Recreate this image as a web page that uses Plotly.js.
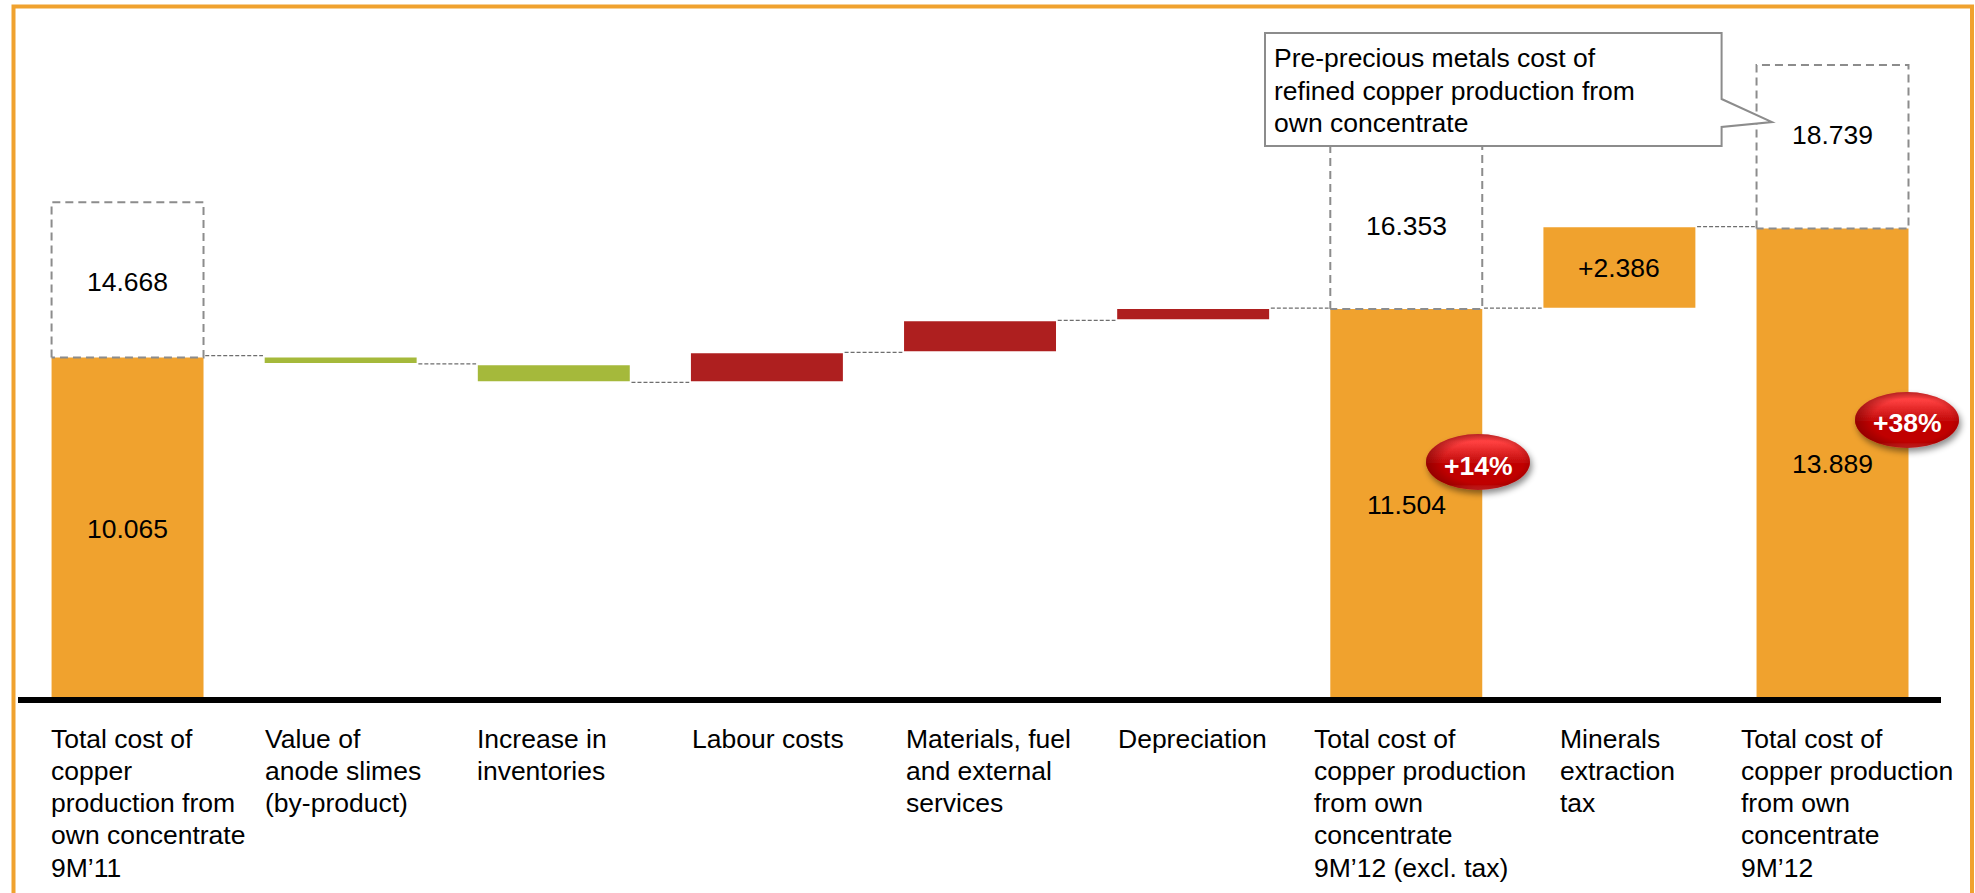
<!DOCTYPE html>
<html>
<head>
<meta charset="utf-8">
<script src="https://cdn.plot.ly/plotly-3.0.1.min.js"></script>
<style>html,body{margin:0;padding:0;background:#fff;overflow:hidden}</style>
</head>
<body>
<div id="chart"></div>
<script>
// Copper production cost bridge, 9M'11 to 9M'12
const categories = [
  ["Total cost of", "copper", "production from", "own concentrate", "9M’11"],
  ["Value of", "anode slimes", "(by-product)"],
  ["Increase in", "inventories"],
  ["Labour costs"],
  ["Materials, fuel", "and external", "services"],
  ["Depreciation"],
  ["Total cost of", "copper production", "from own", "concentrate", "9M’12 (excl. tax)"],
  ["Minerals", "extraction", "tax"],
  ["Total cost of", "copper production", "from own", "concentrate", "9M’12"]
];
const barBottom = [0, 9.90, 9.36, 9.36, 10.25, 11.20, 0, 11.544, 0];
const barTop = [10.065, 10.065, 9.84, 10.19, 11.14, 11.504, 11.504, 13.93, 13.889];
const barColors = ["#F0A22E", "#A5B93B", "#A5B93B", "#AE1F1F", "#AE1F1F", "#AE1F1F", "#F0A22E", "#F0A22E", "#F0A22E"];
const bridgeLevels = [10.12, 9.88, 9.33, 10.22, 11.17, 11.53, 11.53, 13.95];
const prePreciousTotals = [[0, 14.668], [6, 16.353], [8, 18.739]];
const valueLabels = ["14.668", "10.065", "16.353", "11.504", "+2.386", "18.739", "13.889"];
const valueLabelSlots = [0, 0, 6, 6, 7, 8, 8];
const valueLabelRows = [282, 529, 226, 505, 268, 135, 464];
const captionColumns = [51, 265.5, 477.5, 692, 906, 1118.5, 1314, 1560, 1741];
const calloutLines = ["Pre-precious metals cost of", "refined copper production from", "own concentrate"];
const badges = [["+14%", 1478, 462, 466], ["+38%", 1907, 420, 423]];

const W = 1975, H = 893;
const M = {l: 18, r: 34, t: 9, b: 196};
const plotW = W - M.l - M.r, plotH = H - M.t - M.b;
const FONT = "Liberation Sans, Arial, sans-serif";
const FONT_SIZE = 26.5;
const px = v => (v - M.l) / plotW;
const py = v => 1 - (v - M.t) / plotH;
const halfBar = 0.3565;

const traces = [{
  type: "bar",
  x: categories.map((_, i) => i),
  y: barTop.map((t, i) => t - barBottom[i]),
  base: barBottom,
  width: halfBar * 2,
  marker: {color: barColors, line: {width: 0}},
  hoverinfo: "skip"
}];

// Thin connectors between neighbouring steps
const cx = [], cy = [];
bridgeLevels.forEach((lvl, i) => {
  cx.push(i + halfBar + 0.008, i + 1 - halfBar - 0.008, null);
  cy.push(lvl, lvl, null);
});
traces.push({type: "scatter", mode: "lines", x: cx, y: cy, hoverinfo: "skip",
  line: {color: "#6E6E6E", width: 1.2, dash: "4px,2px"}});

// Dashed outlines for the pre-precious metals totals
prePreciousTotals.forEach(([slot, total]) => {
  const floor = barTop[slot];
  traces.push({
    type: "scatter", mode: "lines", hoverinfo: "skip",
    x: [slot - halfBar, slot - halfBar, slot + halfBar, slot + halfBar, slot - halfBar],
    y: [floor, total, total, floor, floor],
    line: {color: "#8C8C8C", width: 2, dash: "8px,5px"}
  });
});

const annotations = [];
const text = (t, x, y, xref, yref, opts) => annotations.push(Object.assign({
  text: t, x, y, xref, yref, showarrow: false, borderpad: 0,
  font: {family: FONT, size: FONT_SIZE, color: "#000"}
}, opts || {}));

valueLabels.forEach((t, i) => {
  text(t, valueLabelSlots[i], py(valueLabelRows[i]), "x", "paper",
    {xanchor: "center", yanchor: "middle"});
});

// Category captions below the axis
categories.forEach((lines, i) => {
  lines.forEach((line, j) => {
    text(line, px(captionColumns[i] - 1.5), py(738.5 + j * 32.3), "paper", "paper",
      {xanchor: "left", yanchor: "middle", align: "left"});
  });
});

calloutLines.forEach((line, j) => {
  text(line, px(1273), py(58 + j * 32.5), "paper", "paper",
    {xanchor: "left", yanchor: "middle", align: "left"});
});

badges.forEach(([label, bx, , ty]) => {
  text(`<b>${label}</b>`, px(bx), py(ty), "paper", "paper",
    {xanchor: "center", yanchor: "middle", font: {family: FONT, size: FONT_SIZE, color: "#fff"}});
});

const pathOf = pts => "M" + pts.map(p => px(p[0]) + "," + py(p[1])).join("L");
const shapes = [
  // Outer frame, open along the bottom edge
  {type: "path", xref: "paper", yref: "paper", layer: "below",
   path: pathOf([[13.5, 893], [13.5, 6.5], [1972, 6.5], [1972, 893]]),
   line: {color: "#F0A22E", width: 4}},
  // Speech-bubble callout
  {type: "path", xref: "paper", yref: "paper", layer: "above",
   path: pathOf([[1265, 33], [1721.6, 33], [1721.6, 99], [1772, 122], [1721.6, 127], [1721.6, 146], [1265, 146]]) + "Z",
   fillcolor: "#FFFFFF", line: {color: "#8C8C8C", width: 2}}
];
badges.forEach(([, bx, by]) => {
  shapes.push({type: "circle", xref: "paper", yref: "paper", layer: "above",
    x0: px(bx - 52), x1: px(bx + 52), y0: py(by - 28), y1: py(by + 28),
    fillcolor: "#C00000", line: {width: 0}});
});

const layout = {
  width: W, height: H, margin: M, showlegend: false,
  paper_bgcolor: "#FFFFFF", plot_bgcolor: "rgba(0,0,0,0)",
  xaxis: {range: [-0.514, 8.509], showgrid: false, zeroline: false, ticks: "", showticklabels: false,
          showline: true, linecolor: "#000", linewidth: 6, fixedrange: true},
  yaxis: {range: [0, 20.4], visible: false, fixedrange: true},
  annotations, shapes
};

Plotly.newPlot("chart", traces, layout, {displayModeBar: false, staticPlot: true}).then(gd => {
  // Give the percentage badges their glossy look
  const svg = gd.querySelector(".main-svg");
  const NS = "http://www.w3.org/2000/svg";
  const defs = document.createElementNS(NS, "defs");
  defs.innerHTML =
    '<linearGradient id="gloss" x1="0" y1="0" x2="0" y2="1">' +
      '<stop offset="0" stop-color="#E93A3A"/><stop offset="0.14" stop-color="#FF4040"/>' +
      '<stop offset="0.42" stop-color="#D01818"/><stop offset="0.55" stop-color="#C00000"/>' +
      '<stop offset="0.9" stop-color="#C00000"/><stop offset="1" stop-color="#E03030"/>' +
    '</linearGradient>' +
    '<radialGradient id="rim" cx="0.55" cy="0.5" r="0.55">' +
      '<stop offset="0.7" stop-color="#700000" stop-opacity="0"/>' +
      '<stop offset="1" stop-color="#700000" stop-opacity="0.55"/>' +
    '</radialGradient>' +
    '<filter id="lift" x="-20%" y="-20%" width="140%" height="150%">' +
      '<feDropShadow dx="2" dy="4" stdDeviation="3" flood-color="#000" flood-opacity="0.45"/>' +
    '</filter>';
  svg.insertBefore(defs, svg.firstChild);
  const paths = gd.querySelectorAll(".shapelayer path");
  const n = paths.length;
  [paths[n - 1], paths[n - 2]].forEach(p => {
    const rim = p.cloneNode(true);
    rim.style.fill = "url(#rim)";
    rim.style.fillOpacity = 1;
    p.style.fill = "url(#gloss)";
    p.style.fillOpacity = 1;
    p.setAttribute("filter", "url(#lift)");
    p.parentNode.insertBefore(rim, p.nextSibling);
  });
});
</script>
</body>
</html>
